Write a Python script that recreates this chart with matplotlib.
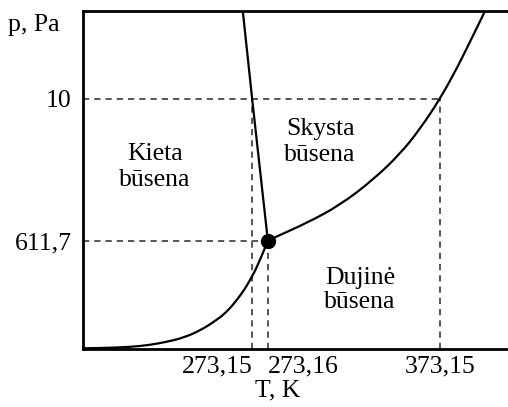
import matplotlib
matplotlib.use("Agg")
import matplotlib.pyplot as plt
from matplotlib.path import Path
from matplotlib.patches import PathPatch

plt.rcParams["font.family"] = ["Liberation Serif", "DejaVu Serif"]
plt.rcParams["lines.scale_dashes"] = False

# Schematic phase diagram of water (axes are not to scale)
T_ticks = [39.8, 43.5, 84.0]
T_labels = ["273,15", "273,16", "373,15"]
p_ticks = [32.0, 74.0]
p_labels = ["611,7", "10"]

triple_T, triple_p = 43.5, 32.0
melt_T, boil_T, ref_p = 39.8, 84.0, 74.0

# Sublimation curve (solid - gas)
subl_T = [0.0, 5.0, 11.1, 15.8, 20.0, 23.5, 27.5, 31.5, 34.0, 36.2, 38.0, 39.3, 40.6, 41.6, 42.6, 43.5]
subl_p = [0.2, 0.3, 0.6, 1.2, 2.2, 3.3, 5.4, 8.6, 11.2, 14.5, 17.6, 20.4, 23.4, 26.3, 29.2, 32.0]

# Melting curve (solid - liquid)
fus_T = [37.6, 39.8, 43.5]
fus_p = [100.0, 74.0, 32.0]

# Vaporization curve (liquid - gas)
vap_T = [43.5, 45.2, 52.7, 60.5, 68.2, 74.6, 79.3, 84.0, 88.0, 91.5, 94.6]
vap_p = [32.0, 33.1, 37.3, 42.6, 50.0, 57.7, 65.1, 74.0, 83.1, 92.0, 100.0]


def smooth_curve(ax, xs, ys, **kw):
    """Quadratic Bezier path using the listed points as control points."""
    pts = list(zip(xs, ys))
    verts = [pts[0]]
    codes = [Path.MOVETO]
    for i in range(1, len(pts) - 2):
        mid = ((pts[i][0] + pts[i + 1][0]) / 2, (pts[i][1] + pts[i + 1][1]) / 2)
        verts += [pts[i], mid]
        codes += [Path.CURVE3, Path.CURVE3]
    verts += [pts[-2], pts[-1]]
    codes += [Path.CURVE3, Path.CURVE3]
    ax.add_patch(PathPatch(Path(verts, codes), fill=False, **kw))


fig = plt.figure(figsize=(5.08, 4.07), dpi=100)
ax = fig.add_axes([83 / 508, 58 / 407, 1 - 83 / 508, 338 / 407])
ax.set_xlim(0, 100)
ax.set_ylim(0, 100)

dash = dict(color="#3a3a3a", lw=1.2, linestyle=(0, (4.5, 3.6)), zorder=1)
ax.plot([0, boil_T], [ref_p, ref_p], **dash)
ax.plot([boil_T, boil_T], [0, ref_p], **dash)
ax.plot([0, triple_T], [triple_p, triple_p], **dash)
ax.plot([triple_T, triple_T], [0, triple_p], **dash)
ax.plot([melt_T, melt_T], [0, ref_p], **dash)

curve = dict(edgecolor="black", lw=1.6, zorder=3)
smooth_curve(ax, subl_T, subl_p, **curve)
ax.plot(fus_T, fus_p, color="black", lw=1.6, zorder=3)
smooth_curve(ax, vap_T, vap_p, **curve)
ax.plot([triple_T], [triple_p], "o", color="black", ms=10, zorder=4)

for s in ("left", "bottom", "top"):
    ax.spines[s].set_linewidth(2)
ax.spines["right"].set_visible(False)

fs = 18.5
ax.set_xticks(T_ticks)
ax.set_xticklabels(T_labels, fontsize=fs)
ax.set_yticks(p_ticks)
ax.set_yticklabels(p_labels, fontsize=fs)
ax.tick_params(length=0, pad=5)
ax.tick_params(axis="y", pad=8)
lbls = ax.get_xticklabels()
lbls[0].set_ha("right")
lbls[1].set_ha("left")

fig.text(8 / 508, 1 - 25 / 407, "p, Pa", fontsize=fs, ha="left", va="center")
fig.text(278 / 508, 1 - 390 / 407, "T, K", fontsize=fs, ha="center", va="center")

ax.text(16.9, 53.8, "Kieta\nbūsena", fontsize=fs, ha="center", va="center", linespacing=1.25)
ax.text(55.8, 61.2, "Skysta\nbūsena", fontsize=fs, ha="center", va="center", linespacing=1.25)
ax.text(65.2, 17.5, "Dujinė\nbūsena", fontsize=fs, ha="center", va="center", linespacing=1.15)

fig.savefig("out.png", dpi=100)
